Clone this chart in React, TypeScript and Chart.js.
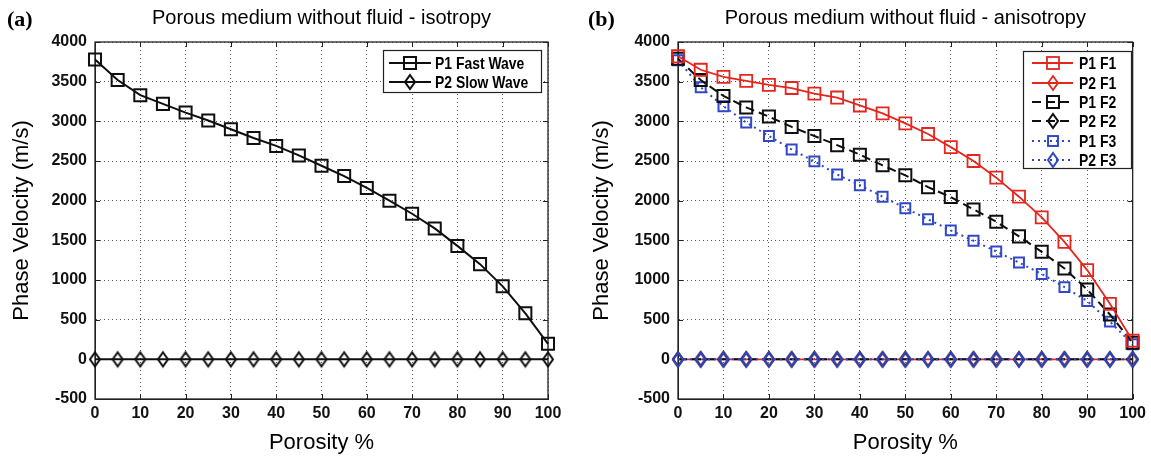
import React, { useEffect, useRef } from 'react';
import { Chart, registerables } from 'chart.js';

Chart.register(...registerables);

const porosity = [0, 5, 10, 15, 20, 25, 30, 35, 40, 45, 50, 55, 60, 65, 70, 75, 80, 85, 90, 95, 100];
const xTickValues = [0, 10, 20, 30, 40, 50, 60, 70, 80, 90, 100];
const yTickValues = [-500, 0, 500, 1000, 1500, 2000, 2500, 3000, 3500, 4000];

const isoP1Fast = [3780, 3520, 3330, 3220, 3110, 3010, 2900, 2790, 2690, 2570, 2440, 2310, 2160, 2000, 1835, 1650, 1430, 1200, 920, 580, 195];
const isoP2Slow = [0, 0, 0, 0, 0, 0, 0, 0, 0, 0, 0, 0, 0, 0, 0, 0, 0, 0, 0, 0, 0];

const anisoP1F1 = [3820, 3650, 3560, 3510, 3460, 3420, 3350, 3300, 3200, 3100, 2975, 2840, 2675, 2500, 2290, 2050, 1790, 1480, 1125, 700, 235];
const anisoP2F1 = [0, 0, 0, 0, 0, 0, 0, 0, 0, 0, 0, 0, 0, 0, 0, 0, 0, 0, 0, 0, 0];
const anisoP1F2 = [3790, 3520, 3320, 3175, 3060, 2930, 2815, 2700, 2580, 2445, 2320, 2170, 2045, 1890, 1735, 1550, 1355, 1145, 880, 565, 210];
const anisoP2F2 = [0, 0, 0, 0, 0, 0, 0, 0, 0, 0, 0, 0, 0, 0, 0, 0, 0, 0, 0, 0, 0];
const anisoP1F3 = [3770, 3430, 3190, 2985, 2815, 2645, 2495, 2330, 2195, 2050, 1905, 1765, 1625, 1495, 1360, 1220, 1075, 910, 735, 475, 190];
const anisoP2F3 = [0, 0, 0, 0, 0, 0, 0, 0, 0, 0, 0, 0, 0, 0, 0, 0, 0, 0, 0, 0, 0];

const RED = 'rgb(228,38,30)';
const BLACK = 'rgb(15,15,15)';
const BLUE = 'rgb(48,72,200)';

type Marker = 'square' | 'diamond';
interface SeriesDef {
  label: string;
  data: number[];
  color: string;
  dash: number[];
  width: number;
  marker: Marker;
  size: number;
  order: number;
}

interface PanelDef {
  letter: string;
  letterX: number;
  title: string;
  yLabelX: number;
  padLeft: number;
  padRight: number;
  series: SeriesDef[];
  legend: { x: number; y: number; w: number; h: number; rowY: number[]; lineX1: number; lineX2: number; markX: number; textX: number };
}

const DIA_W = 10;
const DIA_H = 14;

const diamondCache: Record<string, HTMLCanvasElement> = {};
function diamond(color: string, w: number, h: number, lw: number): HTMLCanvasElement {
  const key = color + w + '_' + h + '_' + lw;
  if (diamondCache[key]) return diamondCache[key];
  const c = document.createElement('canvas');
  c.width = Math.ceil(w + lw * 2 + 2);
  c.height = Math.ceil(h + lw * 2 + 2);
  const ctx = c.getContext('2d')!;
  const cx = c.width / 2;
  const cy = c.height / 2;
  ctx.strokeStyle = color;
  ctx.lineWidth = lw;
  ctx.lineJoin = 'miter';
  ctx.beginPath();
  ctx.moveTo(cx, cy - h / 2);
  ctx.lineTo(cx + w / 2, cy);
  ctx.lineTo(cx, cy + h / 2);
  ctx.lineTo(cx - w / 2, cy);
  ctx.closePath();
  ctx.stroke();
  diamondCache[key] = c;
  return c;
}

const FONT = '"Liberation Sans", Arial, sans-serif';

function overlayPlugin(panel: PanelDef) {
  return {
    id: 'overlay',
    beforeDatasetsDraw(chart: any) {
      const { ctx, chartArea } = chart;
      const { left, right, top, bottom } = chartArea;
      const xs = chart.scales.x;
      const ys = chart.scales.y;
      ctx.save();
      ctx.strokeStyle = '#222';
      ctx.lineWidth = 1.3;
      ctx.setLineDash([]);
      ctx.strokeRect(left, top, right - left, bottom - top);
      ctx.lineWidth = 1;
      ctx.beginPath();
      for (const v of xTickValues) {
        const px = Math.round(xs.getPixelForValue(v)) + 0.5;
        ctx.moveTo(px, bottom);
        ctx.lineTo(px, bottom - 5);
        ctx.moveTo(px, top);
        ctx.lineTo(px, top + 5);
      }
      for (const v of yTickValues) {
        const py = Math.round(ys.getPixelForValue(v)) + 0.5;
        ctx.moveTo(left, py);
        ctx.lineTo(left + 5, py);
        ctx.moveTo(right, py);
        ctx.lineTo(right - 5, py);
      }
      ctx.stroke();
      ctx.restore();
    },
    afterDraw(chart: any) {
      const { ctx, chartArea } = chart;
      const { left, right, top, bottom } = chartArea;
      ctx.save();
      ctx.fillStyle = '#000';
      ctx.font = 'bold 22px "Liberation Serif", "Times New Roman", serif';
      ctx.textAlign = 'left';
      ctx.textBaseline = 'middle';
      ctx.fillText(panel.letter, panel.letterX, 20);
      ctx.font = '20px ' + FONT;
      ctx.textAlign = 'center';
      ctx.fillText(panel.title, (left + right) / 2, 18);
      ctx.font = '22px ' + FONT;
      ctx.fillText('Porosity %', (left + right) / 2, 443);
      ctx.save();
      ctx.translate(panel.yLabelX, (top + bottom) / 2);
      ctx.rotate(-Math.PI / 2);
      ctx.fillText('Phase Velocity (m/s)', 0, 0);
      ctx.restore();

      const L = panel.legend;
      ctx.fillStyle = '#fff';
      ctx.fillRect(L.x, L.y, L.w, L.h);
      ctx.strokeStyle = '#222';
      ctx.lineWidth = 1.2;
      ctx.setLineDash([]);
      ctx.strokeRect(L.x + 0.5, L.y + 0.5, L.w, L.h);
      panel.series.forEach((s, i) => {
        const y = L.rowY[i];
        ctx.strokeStyle = s.color;
        ctx.lineWidth = s.width;
        ctx.setLineDash(s.dash);
        ctx.beginPath();
        ctx.moveTo(L.lineX1, y);
        ctx.lineTo(L.lineX2, y);
        ctx.stroke();
        ctx.setLineDash([]);
        if (s.marker === 'square') {
          const side = s.size * Math.SQRT1_2 * 2;
          ctx.strokeRect(L.markX - side / 2, y - side / 2, side, side);
        } else {
          const img = diamond(s.color, DIA_W, DIA_H, s.width);
          ctx.drawImage(img, L.markX - img.width / 2, y - img.height / 2);
        }
        ctx.save();
        ctx.translate(L.textX, y);
        ctx.scale(0.82, 1);
        ctx.fillStyle = '#000';
        ctx.font = 'bold 17px ' + FONT;
        ctx.textAlign = 'left';
        ctx.textBaseline = 'middle';
        ctx.fillText(s.label, 0, 1);
        ctx.restore();
      });
      ctx.restore();
    },
  };
}

function buildConfig(panel: PanelDef): any {
  const datasets = panel.series.map((s) => ({
    label: s.label,
    data: porosity.map((x, i) => ({ x, y: s.data[i] })),
    borderColor: s.color,
    borderWidth: s.width,
    borderDash: s.dash,
    pointStyle: s.marker === 'square' ? 'rect' : diamond(s.color, DIA_W, DIA_H, s.width),
    pointRadius: s.size,
    pointHoverRadius: s.size,
    pointBorderColor: s.color,
    pointBorderWidth: s.width,
    pointBackgroundColor: 'rgba(0,0,0,0)',
    fill: false,
    tension: 0,
    clip: false,
    order: s.order,
  }));
  return {
    type: 'line',
    data: { datasets },
    options: {
      animation: false,
      responsive: false,
      maintainAspectRatio: false,
      layout: { padding: { top: 42, right: panel.padRight, left: 0, bottom: 0 } },
      plugins: { legend: { display: false }, tooltip: { enabled: false }, title: { display: false } },
      scales: {
        x: {
          type: 'linear',
          min: 0,
          max: 100,
          afterFit: (scale: any) => {
            scale.height = 62;
          },
          afterBuildTicks: (scale: any) => {
            scale.ticks = xTickValues.map((v) => ({ value: v }));
          },
          ticks: {
            callback: (v: any) => String(v),
            color: '#111',
            font: { family: FONT, size: 16, weight: 'bold' },
            padding: 5,
            maxRotation: 0,
            autoSkip: false,
          },
          grid: { color: '#555', lineWidth: 1, drawTicks: false },
          border: { display: true, color: '#222', width: 1, dash: [1, 3] },
        },
        y: {
          type: 'linear',
          min: -500,
          max: 4000,
          afterFit: (scale: any) => {
            scale.width = panel.padLeft;
          },
          afterBuildTicks: (scale: any) => {
            scale.ticks = yTickValues.map((v) => ({ value: v }));
          },
          ticks: {
            callback: (v: any) => String(v),
            color: '#111',
            font: { family: FONT, size: 16, weight: 'bold' },
            padding: 8,
            autoSkip: false,
          },
          grid: { color: '#555', lineWidth: 1, drawTicks: false },
          border: { display: true, color: '#222', width: 1, dash: [1, 3] },
        },
      },
    },
    plugins: [overlayPlugin(panel)],
  };
}

const panelA: PanelDef = {
  letter: '(a)',
  letterX: 7,
  title: 'Porous medium without fluid - isotropy',
  yLabelX: 22,
  padLeft: 95,
  padRight: 27,
  series: [
    { label: 'P1 Fast Wave', data: isoP1Fast, color: BLACK, dash: [], width: 2, marker: 'square', size: 8.5, order: 2 },
    { label: 'P2 Slow Wave', data: isoP2Slow, color: BLACK, dash: [], width: 2, marker: 'diamond', size: 6, order: 1 },
  ],
  legend: { x: 383, y: 50, w: 158, h: 42, rowY: [63, 82], lineX1: 389, lineX2: 431, markX: 410, textX: 435 },
};

const OFF_B = 575;
const panelB: PanelDef = {
  letter: '(b)',
  letterX: 13,
  title: 'Porous medium without fluid - anisotropy',
  yLabelX: 27,
  padLeft: 103,
  padRight: 18,
  series: [
    { label: 'P1 F1', data: anisoP1F1, color: RED, dash: [], width: 1.8, marker: 'square', size: 8.5, order: 4 },
    { label: 'P2 F1', data: anisoP2F1, color: RED, dash: [], width: 1.8, marker: 'diamond', size: 6, order: 3 },
    { label: 'P1 F2', data: anisoP1F2, color: BLACK, dash: [9, 5], width: 2, marker: 'square', size: 8.5, order: 5 },
    { label: 'P2 F2', data: anisoP2F2, color: BLACK, dash: [9, 5], width: 2, marker: 'diamond', size: 6, order: 2 },
    { label: 'P1 F3', data: anisoP1F3, color: BLUE, dash: [2, 4], width: 2, marker: 'square', size: 7, order: 6 },
    { label: 'P2 F3', data: anisoP2F3, color: BLUE, dash: [2, 4], width: 2, marker: 'diamond', size: 6, order: 1 },
  ],
  legend: {
    x: 1023 - OFF_B,
    y: 51,
    w: 108,
    h: 117,
    rowY: [63, 83, 102, 121, 141, 160],
    lineX1: 1032 - OFF_B,
    lineX2: 1073 - OFF_B,
    markX: 1053 - OFF_B,
    textX: 1079 - OFF_B,
  },
};

function Panel({ panel, left, width }: { panel: PanelDef; left: number; width: number }) {
  const ref = useRef<HTMLCanvasElement | null>(null);
  useEffect(() => {
    if (!ref.current) return;
    const chart = new Chart(ref.current, buildConfig(panel));
    return () => chart.destroy();
  }, [panel]);
  return (
    <canvas
      ref={ref}
      width={width}
      height={461}
      style={{ position: 'absolute', left, top: 0, width, height: 461 }}
    />
  );
}

export default function App() {
  return (
    <div style={{ position: 'absolute', left: 0, top: 0, width: 1151, height: 461, background: '#fff' }}>
      <Panel panel={panelA} left={0} width={575} />
      <Panel panel={panelB} left={OFF_B} width={576} />
    </div>
  );
}
